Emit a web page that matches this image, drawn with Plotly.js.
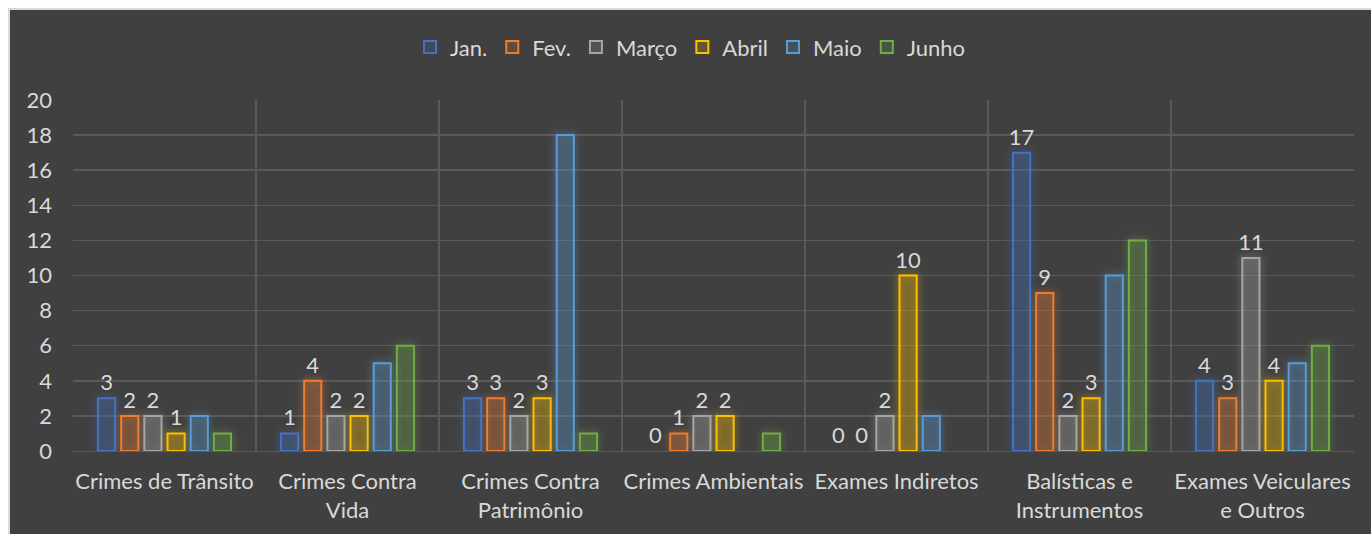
<!DOCTYPE html>
<html>
<head>
<meta charset="utf-8">
<script src="https://cdn.plot.ly/plotly-3.0.1.min.js"></script>
<style>
  html, body { margin: 0; padding: 0; background: #ffffff; width: 1371px; height: 534px; overflow: hidden; }
  #frame { position: absolute; left: 8px; top: 8px; width: 1363px; height: 526px; background: #d9d9d9; }
  #chart { position: absolute; left: 10px; top: 10px; width: 1361px; height: 524px; }
  .barlayer .trace:nth-child(1) .point path { filter: drop-shadow(0 0 4px rgba(68,114,196,0.8)); }
  .barlayer .trace:nth-child(2) .point path { filter: drop-shadow(0 0 4px rgba(237,125,49,0.8)); }
  .barlayer .trace:nth-child(3) .point path { filter: drop-shadow(0 0 4px rgba(165,165,165,0.8)); }
  .barlayer .trace:nth-child(4) .point path { filter: drop-shadow(0 0 4px rgba(255,192,0,0.8)); }
  .barlayer .trace:nth-child(5) .point path { filter: drop-shadow(0 0 4px rgba(91,155,213,0.8)); }
  .barlayer .trace:nth-child(6) .point path { filter: drop-shadow(0 0 4px rgba(112,173,71,0.8)); }
</style>
</head>
<body>
<div id="frame"></div>
<div id="chart"></div>
<script>
const categories = [
  "Crimes de Trânsito",
  "Crimes Contra<br>Vida",
  "Crimes Contra<br>Patrimônio",
  "Crimes Ambientais",
  "Exames Indiretos",
  "Balísticas e<br>Instrumentos",
  "Exames Veiculares<br>e Outros"
];
const seriesNames = ["Jan.", "Fev.", "Março", "Abril", "Maio", "Junho"];
const jan   = [3, 1, 3, 0, 0, 17, 4];
const fev   = [2, 4, 3, 1, 0, 9, 3];
const marco = [2, 2, 2, 2, 2, 2, 11];
const abril = [1, 2, 3, 2, 10, 3, 4];
const maio  = [2, 5, 18, 0, 2, 10, 5];
const junho = [1, 6, 1, 1, 0, 12, 6];
const showLabels = [true, true, true, true, false, false];

const seriesValues = [jan, fev, marco, abril, maio, junho];
const colors = ["#4472C4", "#ED7D31", "#A5A5A5", "#FFC000", "#5B9BD5", "#70AD47"];
const fills = ["rgba(68,114,196,0.18)", "rgba(237,125,49,0.18)", "rgba(165,165,165,0.18)",
               "rgba(255,192,0,0.18)", "rgba(91,155,213,0.18)", "rgba(112,173,71,0.18)"];
const FONT = "Lato, 'Open Sans', sans-serif";
const TXT = "#d9d9d9";
const FS = 22;

const traces = seriesNames.map((name, i) => ({
  type: "bar",
  name: name,
  x: categories,
  y: seriesValues[i],
  text: showLabels[i] ? seriesValues[i].map(String) : undefined,
  textposition: showLabels[i] ? "outside" : "none",
  constraintext: "none",
  textangle: 0,
  textfont: { family: FONT, size: FS, color: TXT },
  cliponaxis: false,
  marker: {
    color: fills[i],
    line: { color: colors[i], width: seriesValues[i].map(v => v === 0 ? 0 : 2) }
  },
  hoverinfo: "x+y+name"
}));

const layout = {
  width: 1361,
  height: 524,
  paper_bgcolor: "#404040",
  plot_bgcolor: "#404040",
  margin: { l: 63, r: 17, t: 90, b: 83 },
  barmode: "group",
  bargap: 0.24,
  bargroupgap: 0.26,
  font: { family: FONT, size: FS, color: TXT },
  showlegend: true,
  legend: {
    orientation: "h",
    x: 0.5, xanchor: "center", xref: "container",
    y: 0.929, yanchor: "middle", yref: "container",
    font: { family: FONT, size: 22, color: TXT },
    bgcolor: "rgba(0,0,0,0)",
    itemwidth: 30,
    tracegroupgap: 0
  },
  xaxis: {
    type: "category",
    tickson: "boundaries",
    showgrid: true,
    gridcolor: "#5a5a5a",
    gridwidth: 1.5,
    ticks: "",
    tickangle: 0,
    showline: false,
    ticklabelstandoff: 15,
    tickfont: { family: FONT, size: FS, color: TXT },
    automargin: false
  },
  yaxis: {
    range: [0, 20],
    dtick: 2,
    showgrid: true,
    gridcolor: "#5a5a5a",
    gridwidth: 1.5,
    zeroline: true,
    zerolinecolor: "#5a5a5a",
    showline: false,
    ticks: "",
    ticklabelstandoff: 20,
    tickfont: { family: FONT, size: FS, color: TXT },
    automargin: false
  }
};

Plotly.newPlot("chart", traces, layout, { displayModeBar: false, staticPlot: true });
</script>
</body>
</html>
